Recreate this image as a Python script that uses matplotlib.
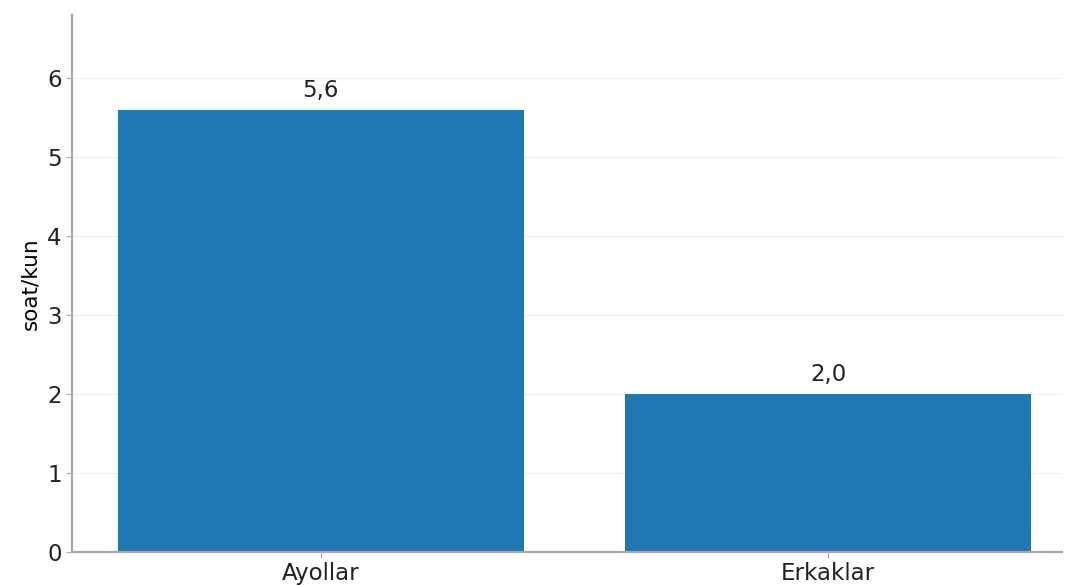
import matplotlib
matplotlib.use("Agg")
import matplotlib.pyplot as plt

categories = ["Ayollar", "Erkaklar"]
values = [5.6, 2.0]
value_labels = ["5,6", "2,0"]
yticks = [0, 1, 2, 3, 4, 5, 6]

fig = plt.figure(figsize=(10.67, 5.86), dpi=100)
ax = fig.add_axes([0.0675, 0.058, 0.9275, 0.916])

x = list(range(len(categories)))
ax.bar(x, values, width=0.8, color="#1f77b4", zorder=2)
for xi, v, lab in zip(x, values, value_labels):
    ax.text(xi, v + 0.1, lab, ha="center", va="bottom", fontsize=16.5, color="#222222")

ax.set_xticks(x)
ax.set_xticklabels(categories, fontsize=16.5)
ax.set_yticks(yticks)
ax.tick_params(axis="y", labelsize=16.5, colors="#222222", length=4, color="#aaaaaa")
ax.tick_params(axis="x", colors="#222222", length=4, color="#aaaaaa")
ax.set_ylabel("soat/kun", fontsize=15.5, labelpad=5)
ax.set_ylim(0, 6.8)
ax.set_xlim(-0.49, 1.46)
ax.yaxis.grid(True, color="#e6e6e6", alpha=0.6, linewidth=0.8)
ax.set_axisbelow(True)
for s in ["top", "right"]:
    ax.spines[s].set_visible(False)
for s in ["left", "bottom"]:
    ax.spines[s].set_color("#aaaaaa")
    ax.spines[s].set_linewidth(1.6)

fig.savefig("out.png", dpi=100)
